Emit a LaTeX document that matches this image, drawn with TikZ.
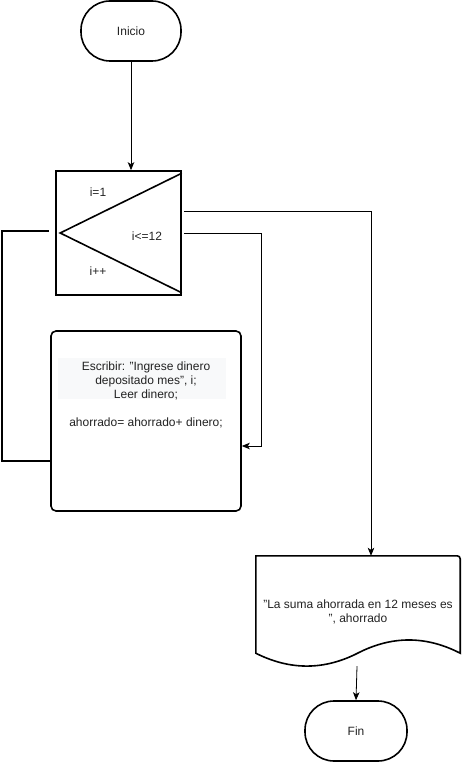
\documentclass[tikz,border=0pt]{standalone}
\usepackage{fontspec}
\setmainfont{Liberation Sans}
\usetikzlibrary{arrows.meta,calc}
\definecolor{txt}{RGB}{34,34,34}
\definecolor{hl}{RGB}{248,249,250}
\begin{document}
\begin{tikzpicture}[x=1pt,y=-1pt,
  every node/.style={font=\fontsize{12}{14}\selectfont,text=txt},
  term/.style={draw,line width=1.6pt,rounded corners=29pt,minimum width=100pt,minimum height=60pt,inner sep=0pt},
  loopbox/.style={draw,line width=1.6pt,minimum width=125pt,minimum height=124pt,inner sep=0pt},
  proc/.style={draw,line width=1.6pt,rounded corners=5pt,minimum width=190pt,minimum height=180pt,inner sep=0pt},
  ghost/.style={minimum width=204pt,minimum height=97pt,inner sep=0pt},
  conn/.style={line width=0.8pt},
  arr/.style={conn,-{Stealth[length=8pt,width=6.5pt,inset=2pt]}},
  lbl/.style={inner sep=0pt,align=center}
]
\useasboundingbox (0,0) rectangle (461,762);

\node[term] (ini) at (131,31) {Inicio};
\node[loopbox] (loop) at (118.5,233) {};
\draw[line width=1.6pt] ($(loop.north east)+(0,3)$) -- ($(loop.west)+(5,0)$) -- ($(loop.south east)+(0,-3)$);
\node[lbl] (t1) at (98,192) {i=1};
\node[lbl] (t2) at (147,236) {i<=12};
\node[lbl] (t3) at (98,271) {i++};

\node[proc] (proc) at (146,421) {};
\fill[hl] (58,358) rectangle (226,399);
\node[lbl,anchor=north] (ptext) at (146,361.5) {Escribir: "Ingrese dinero\\depositado mes", i;\\Leer dinero;\\[14pt]ahorrado= ahorrado+ dinero;};

\node[ghost] (doc) at (358,604.5) {};
\draw[line width=1.6pt] (doc.south west) -- ($(doc.north west)$) [rounded corners=3pt] -- (doc.north east) [sharp corners] -- (doc.south east)
  .. controls (426,635.6) and (392,635.6) .. (358,653)
  .. controls (324,670.4) and (290,670.4) .. (doc.south west) -- cycle;
\node[lbl] (dtext) at (358,612) {"La suma ahorrada en 12 meses es\\", ahorrado};

\node[term,minimum width=102pt] (fin) at (356,731) {Fin};

\draw[arr] (ini.south) -- (ini.south |- loop.north);
\coordinate (loopin) at ($(loop.west)+(-6,-2)$);
\draw[conn,line width=1.6pt] ($(proc.west)+(0,40)$) -- (2,461) |- (loopin);
\draw[arr] ($(loop.east)+(2,-22)$) -| ($(doc.north)+(13,0)$);
\draw[arr] ($(loop.east)+(2,0)$) -- (261,233) |- ($(proc.east)+(0,25)$);
\draw[arr] ($(doc.south)+(-1,13)$) -- (fin.north);
\end{tikzpicture}
\end{document}
